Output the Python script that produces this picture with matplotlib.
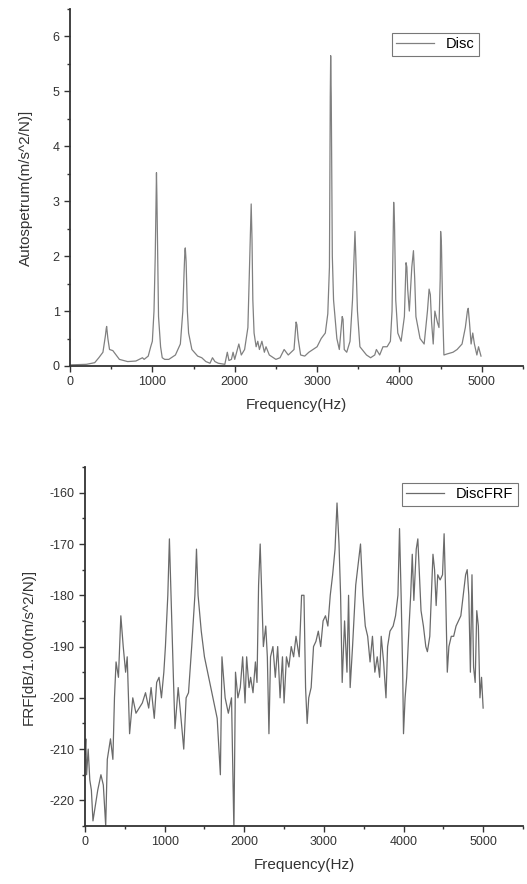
import matplotlib
matplotlib.use("Agg")
import matplotlib.pyplot as plt
from matplotlib.ticker import MultipleLocator

plt.rcParams['font.family'] = ['Liberation Sans', 'DejaVu Sans']
plt.rcParams['axes.unicode_minus'] = False

# autospectrum of the disc
auto_f = [0, 200, 300, 350, 400, 430, 440, 445, 450, 460, 480, 520, 550, 600, 700, 800, 880, 900,
          950, 980, 1000, 1020, 1035, 1045, 1050, 1055, 1065, 1075, 1100, 1120, 1150, 1200, 1280,
          1340, 1370, 1385, 1395, 1400, 1410, 1425, 1440, 1480, 1550, 1600, 1650, 1700, 1730, 1760,
          1800, 1880, 1910, 1930, 1960, 1980, 2000, 2050, 2080, 2120, 2160, 2180, 2195, 2200,
          2210, 2220, 2235, 2260, 2280, 2300, 2330, 2360, 2380, 2420, 2500, 2550, 2600, 2650,
          2720, 2745, 2755, 2770, 2800, 2850, 2900, 2950, 3000, 3050, 3100, 3130, 3150, 3160, 3165,
          3172, 3185, 3200, 3240, 3270, 3305, 3315, 3330, 3360, 3400, 3430, 3450, 3460, 3470, 3490,
          3520, 3600, 3650, 3700, 3720, 3760, 3800, 3850, 3890, 3910, 3925, 3930, 3940, 3955, 3980,
          4020, 4060, 4080, 4090, 4100, 4120, 4150, 4170, 4185, 4200, 4250, 4300, 4340, 4360, 4375,
          4390, 4410, 4430, 4460, 4480, 4495, 4500, 4510, 4525, 4540, 4580, 4650, 4700, 4760, 4800,
          4825, 4835, 4850, 4870, 4890, 4910, 4940, 4960, 4990]
auto_v = [0.02, 0.03, 0.06, 0.15, 0.25, 0.55, 0.68, 0.72, 0.65, 0.5, 0.3, 0.28, 0.22, 0.12,
          0.08, 0.09, 0.15, 0.12, 0.18, 0.35, 0.45, 1.0, 2.0, 3.0, 3.52, 3.1, 2.0, 0.9, 0.35,
          0.15, 0.12, 0.12, 0.2, 0.4, 1.0, 1.7, 2.1, 2.15, 1.9, 1.0, 0.6, 0.3, 0.18, 0.15, 0.08,
          0.05, 0.15, 0.08, 0.05, 0.03, 0.25, 0.1, 0.12, 0.25, 0.12, 0.4, 0.2, 0.3, 0.7, 1.8,
          2.6, 2.95, 2.3, 1.2, 0.6, 0.35, 0.45, 0.3, 0.45, 0.25, 0.35, 0.2, 0.12, 0.15, 0.3,
          0.2, 0.3, 0.8, 0.75, 0.5, 0.2, 0.18, 0.25, 0.3, 0.35, 0.5, 0.6, 0.95, 1.8, 4.9, 5.65,
          4.9, 2.0, 1.2, 0.5, 0.3, 0.9, 0.85, 0.3, 0.25, 0.45, 1.2, 2.0, 2.45, 2.0, 1.0, 0.35,
          0.2, 0.15, 0.2, 0.3, 0.2, 0.35, 0.35, 0.45, 1.0, 2.5, 2.98, 2.6, 1.2, 0.6, 0.45,
          0.9, 1.88, 1.8, 1.4, 1.0, 1.8, 2.1, 1.6, 0.9, 0.5, 0.4, 1.0, 1.4, 1.3, 0.8, 0.4,
          1.0, 0.8, 0.7, 1.6, 2.45, 2.2, 1.0, 0.2, 0.22, 0.25, 0.3, 0.4, 0.7, 1.0, 1.05, 0.8,
          0.4, 0.6, 0.4, 0.2, 0.35, 0.18]

# FRF in dB
frf_f = [0, 10, 20, 40, 60, 80, 100, 130, 160, 200, 230, 260, 280, 320, 350, 370, 390,
         420, 450, 480, 510, 530, 560, 600, 640, 680, 720, 760, 800, 830, 870, 900, 930,
         960, 990, 1010, 1040, 1060, 1080, 1110, 1130, 1170, 1200, 1240, 1270, 1300, 1340,
         1380, 1400, 1420, 1460, 1500, 1540, 1580, 1620, 1660, 1700, 1720, 1760, 1800,
         1840, 1870, 1890, 1920, 1950, 1980, 2010, 2030, 2060, 2080, 2110, 2140, 2160,
         2180, 2200, 2220, 2240, 2270, 2290, 2310, 2330, 2360, 2390, 2420, 2450, 2480,
         2500, 2530, 2560, 2590, 2620, 2650, 2690, 2720, 2750, 2770, 2790, 2810, 2840,
         2870, 2900, 2930, 2960, 2990, 3020, 3050, 3080, 3110, 3140, 3165, 3190, 3210,
         3230, 3260, 3290, 3310, 3330, 3360, 3400, 3430, 3460, 3490, 3520, 3550, 3580,
         3610, 3640, 3670, 3700, 3720, 3750, 3780, 3800, 3830, 3870, 3900, 3930, 3950,
         3970, 3990, 4000, 4020, 4040, 4070, 4090, 4110, 4130, 4160, 4180, 4200, 4220,
         4250, 4280, 4300, 4330, 4350, 4370, 4390, 4410, 4430, 4460, 4490, 4510, 4530,
         4550, 4570, 4600, 4630, 4660, 4690, 4720, 4750, 4780, 4800, 4820, 4840, 4860,
         4880, 4900, 4920, 4940, 4960, 4980, 5000]
frf_v = [-211, -208, -215, -210, -216, -218, -224, -221, -218, -215, -217, -225, -212,
         -208, -212, -200, -193, -196, -184, -190, -195, -192, -207, -200, -203, -202,
         -201, -199, -202, -198, -204, -197, -196, -200, -195, -190, -180, -169, -180,
         -196, -206, -198, -203, -210, -200, -199, -190, -180, -171, -180, -187, -192,
         -195, -198, -201, -204, -215, -192, -200, -203, -200, -226, -195, -200, -198,
         -192, -201, -192, -198, -196, -199, -193, -197, -178, -170, -180, -190, -186,
         -192, -207, -192, -190, -196, -190, -200, -192, -201, -192, -194, -190, -192,
         -188, -192, -180, -180, -198, -205, -200, -198, -190, -189, -187, -190, -185,
         -184, -186, -180, -176, -171, -162, -170, -180, -197, -185, -195, -180, -198,
         -190, -178, -174, -170, -180, -186, -188, -193, -188, -195, -192, -196, -188,
         -193, -200, -190, -187, -186, -184, -180, -167, -180, -195, -207, -200, -196,
         -186, -180, -172, -181, -171, -169, -176, -183, -186, -190, -191, -188, -180,
         -172, -175, -182, -176, -177, -176, -168, -180, -195, -190, -188, -188, -186,
         -185, -184, -180, -176, -175, -180, -195, -176, -194, -197, -183, -186, -200,
         -196, -202]

fig = plt.figure(figsize=(5.27, 8.84), dpi=100)

def style(ax):
    for s in ['top', 'right']:
        ax.spines[s].set_visible(False)
    for s in ['left', 'bottom']:
        ax.spines[s].set_linewidth(1.3)
        ax.spines[s].set_color('#333333')
    ax.tick_params(which='both', direction='out', labelsize=9, colors='#333333')
    ax.tick_params(which='major', length=4, width=1)
    ax.tick_params(which='minor', length=2.5, width=1)
    ax.xaxis.set_major_locator(MultipleLocator(1000))
    ax.xaxis.set_minor_locator(MultipleLocator(500))
    ax.set_xlim(0, 5500)
    ax.set_xlabel('Frequency(Hz)', fontsize=11, color='#333333', labelpad=7)

# top panel
ax1 = fig.add_axes([0.1328, 0.586, 0.8596, 0.4038])
ax1.plot(auto_f, auto_v, color='#808080', lw=0.9, label='Disc')
style(ax1)
ax1.set_ylim(0, 6.5)
ax1.yaxis.set_major_locator(MultipleLocator(1))
ax1.yaxis.set_minor_locator(MultipleLocator(0.5))
ax1.set_ylabel('Autospetrum(m/s^2/N)]', fontsize=11, color='#333333', labelpad=14)
leg1 = ax1.legend(loc='upper left', bbox_to_anchor=(392 / 527, 1 - 33 / 884),
                  bbox_transform=fig.transFigure, fontsize=10.5, frameon=True,
                  fancybox=False, handlelength=2.6, borderpad=0.3, borderaxespad=0)
leg1.get_frame().set_edgecolor('#555555')
leg1.get_frame().set_linewidth(0.8)

# bottom panel
ax2 = fig.add_axes([0.1613, 0.0656, 0.831, 0.406])
ax2.plot(frf_f, frf_v, color='#6a6a6a', lw=0.9, label='DiscFRF')
style(ax2)
ax2.set_ylim(-225, -155)
ax2.yaxis.set_major_locator(MultipleLocator(10))
ax2.yaxis.set_minor_locator(MultipleLocator(5))
ax2.set_ylabel('FRF[dB/1.00(m/s^2/N)]', fontsize=11, color='#333333', labelpad=10)
leg2 = ax2.legend(loc='upper left', bbox_to_anchor=(402 / 527, 1 - 483 / 884),
                  bbox_transform=fig.transFigure, fontsize=10.5, frameon=True,
                  fancybox=False, handlelength=2.6, borderpad=0.3, borderaxespad=0)
leg2.get_frame().set_edgecolor('#555555')
leg2.get_frame().set_linewidth(0.8)

fig.savefig('out.png', dpi=100)
